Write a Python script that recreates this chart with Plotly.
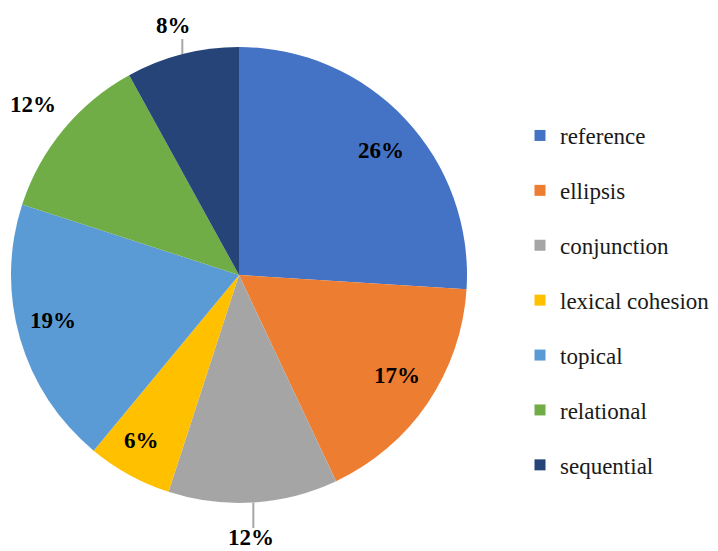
import math
import plotly.graph_objects as go

categories = ["reference", "ellipsis", "conjunction", "lexical cohesion", "topical", "relational", "sequential"]
values = [26, 17, 12, 6, 19, 12, 8]
colors = ["#4472C4", "#ED7D31", "#A5A5A5", "#FFC000", "#5B9BD5", "#70AD47", "#264478"]

# label placement (fraction of radius, pixel nudges) and leader lines
label_r = [0.83, 0.82, 1.16, 0.83, 0.85, 1.17, 1.15]
label_dx = [4, 3, -5, -6, 0, 0, 0]
label_dy = [5, -5, -1, 0, -9, 0, 4]
leader = [False, False, True, False, False, False, True]

# the page body has an 8px margin: figure is drawn from (8, 8)
OFF = 8
W, H = 718 - OFF, 551 - OFF
cx, cy, R = 239 - OFF, 275 - OFF, 228
FONT = "Liberation Serif, Times New Roman, serif"

fig = go.Figure()
fig.add_trace(go.Pie(
    labels=categories, values=values, sort=False, direction="clockwise", rotation=0,
    marker=dict(colors=colors, line=dict(width=0)),
    textinfo="none", hoverinfo="label+percent", showlegend=False,
    domain=dict(x=[(cx - R) / W, (cx + R) / W], y=[1 - (cy + R) / H, 1 - (cy - R) / H]),
))

# legend entries
for i, (c, col) in enumerate(zip(categories, colors)):
    fig.add_trace(go.Scatter(
        x=[None], y=[None], mode="markers", name=c, legendgroup=str(i),
        marker=dict(symbol="square", size=11, color=col), showlegend=True, hoverinfo="skip",
    ))

total = sum(values)
cum = 0
for i, v in enumerate(values):
    mid = 2 * math.pi * (cum + v / 2) / total
    cum += v
    r = label_r[i] * R
    lx = cx + r * math.sin(mid) + label_dx[i]
    ly = cy - r * math.cos(mid) + label_dy[i]
    fig.add_annotation(
        x=lx / W, y=1 - ly / H, xref="paper", yref="paper",
        text=f"<b>{round(100 * v / total)}%</b>", showarrow=False,
        font=dict(family=FONT, size=23, color="#000000"),
        xanchor="center", yanchor="middle",
    )
    if leader[i]:
        ex = cx + R * math.sin(mid)
        ey = cy - R * math.cos(mid)
        if ly > ey:
            end_y = ly - 10
        else:
            end_y = ly + 14
        fig.add_shape(
            type="line", xref="paper", yref="paper",
            x0=ex / W, x1=ex / W, y0=1 - ey / H, y1=1 - end_y / H,
            line=dict(color="#A6A6A6", width=2),
        )

fig.update_layout(
    width=W, height=H,
    margin=dict(l=0, r=0, t=0, b=0, autoexpand=False),
    paper_bgcolor="white", plot_bgcolor="white",
    xaxis=dict(visible=False), yaxis=dict(visible=False),
    legend=dict(
        x=(520 - OFF) / W, y=1 - (114 - OFF) / H, xanchor="left", yanchor="top",
        font=dict(family=FONT, size=23, color="#1a1a1a"),
        tracegroupgap=22, bgcolor="rgba(0,0,0,0)",
    ),
)

fig.write_html("out.html")
